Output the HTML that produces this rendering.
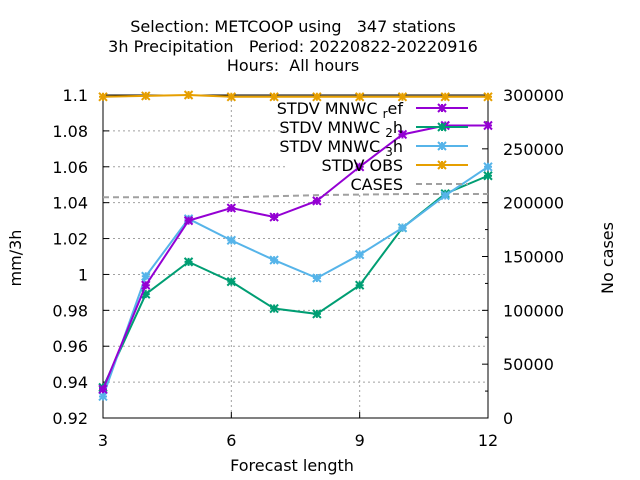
<!DOCTYPE html>
<html><head><meta charset="utf-8"><style>body{margin:0;background:#fff}svg{display:block;font-family:"DejaVu Sans","Liberation Sans",sans-serif}text{white-space:pre}</style></head>
<body>
<svg id="c" width="640" height="480" xmlns="http://www.w3.org/2000/svg"></svg>
<script>
const steps=[3,4,5,6,7,8,9,10,11,12];
const refVals=[0.936,0.994,1.030,1.037,1.032,1.041,1.060,1.078,1.083,1.083];
const h2Vals=[0.937,0.989,1.007,0.996,0.981,0.978,0.994,1.026,1.045,1.055];
const h3Vals=[0.932,0.999,1.031,1.019,1.008,0.998,1.011,1.026,1.044,1.060];
const obsVals=[1.099,1.0995,1.100,1.099,1.099,1.099,1.099,1.099,1.099,1.099];
const casesVals=[205000,205000,205000,205000,206000,207000,207500,208000,208000,208000];
const yTicks=[0.92,0.94,0.96,0.98,1,1.02,1.04,1.06,1.08,1.1];
const y2Ticks=[0,50000,100000,150000,200000,250000,300000];
const xTicks=[3,6,9,12];
const L=103,R=488,T=95,B=418;
const FS=16;
const X=v=>L+(v-3)/9*(R-L);
const Y=v=>B-(v-0.92)/0.18*(B-T);
const Y2=v=>B-v/300000*(B-T);
const svg=document.getElementById('c');
const NS='http://www.w3.org/2000/svg';
function mk(tag,attrs,parent){const e=document.createElementNS(NS,tag);for(const k in attrs)e.setAttribute(k,attrs[k]);(parent||svg).appendChild(e);return e;}
function txt(x,y,s,anchor,name,extra){const t=mk('text',Object.assign({x:x,y:y,'font-size':FS,'text-anchor':anchor||'middle',fill:'#000'},extra||{}));t.textContent=s;


return t;}
yTicks.forEach(v=>{if(v>0.92&&v<1.1){const g=mk('line',{x1:L,x2:R,y1:Y(v),y2:Y(v),stroke:'#a0a0a0','stroke-dasharray':'2,3'});

}});
xTicks.forEach(v=>{if(v>3&&v<12){const g=mk('line',{x1:X(v),x2:X(v),y1:T,y2:B,stroke:'#a0a0a0','stroke-dasharray':'2,3'});

}});
const lb=mk('rect',{x:287,y:97,width:199,height:96,fill:'#fff'});


const box=mk('rect',{x:L,y:T,width:R-L,height:B-T,fill:'none',stroke:'#000','stroke-width':1});


yTicks.forEach(v=>{mk('line',{x1:L,x2:L+6,y1:Y(v),y2:Y(v),stroke:'#000'});
txt(88,Y(v)+6,String(v),'end','y-tick-label');});
y2Ticks.forEach(v=>{mk('line',{x1:R-6,x2:R,y1:Y2(v),y2:Y2(v),stroke:'#000'});
if(v<300000)mk('line',{x1:R-3,x2:R,y1:Y2(v+25000),y2:Y2(v+25000),stroke:'#000'});
txt(503,Y2(v)+6,String(v),'start','y2-tick-label');});
xTicks.forEach(v=>{mk('line',{x1:X(v),x2:X(v),y1:B,y2:B-6,stroke:'#000'});
txt(X(v),446,String(v),'middle','x-tick-label');});
txt(293,32,'Selection: METCOOP using   347 stations','middle','title-line-1');
txt(293,52,'3h Precipitation   Period: 20220822-20220916','middle','title-line-2');
txt(293,71,'Hours:  All hours','middle','title-line-3');
txt(292,471,'Forecast length','middle','x-axis-title');
txt(21,258,'mm/3h','middle','y-axis-title',{transform:'rotate(-90 21 258)'});
txt(613,258,'No cases','middle','y2-axis-title',{transform:'rotate(-90 613 258)'});
const cp=mk('polyline',{points:steps.map((s,i)=>X(s)+','+Y2(casesVals[i])).join(' '),fill:'none',stroke:'#a0a0a0','stroke-width':2,'stroke-dasharray':'6,4'});


function marker(x,y,c,g){const s=4;mk('path',{d:`M${x-s},${y-s}L${x+s},${y+s}M${x-s},${y+s}L${x+s},${y-s}M${x-s},${y}L${x+s},${y}M${x},${y-s}L${x},${y+s}`,stroke:c,'stroke-width':2},g);}
function series(vals,c,name){const g=mk('g',{});


mk('polyline',{points:steps.map((s,i)=>X(s)+','+Y(vals[i])).join(' '),fill:'none',stroke:c,'stroke-width':2},g);
steps.forEach((s,i)=>marker(X(s),Y(vals[i]),c,g));}
series(obsVals,'#e69f00','series-obs');
series(h2Vals,'#009e73','series-mnwc-2h');
series(h3Vals,'#56b4e9','series-mnwc-3h');
series(refVals,'#9400d3','series-mnwc-ref');
const leg=[['STDV MNWC','r','ef','#9400d3'],['STDV MNWC','2','h','#009e73'],['STDV MNWC','3','h','#56b4e9'],['STDV OBS','','','#e69f00'],['CASES','','','#a0a0a0']];
leg.forEach((e,i)=>{const y=108+i*19;const g=mk('g',{});


const t=mk('text',{x:403,y:y+6,'font-size':FS,'text-anchor':'end'},g);
const a=mk('tspan',{},t);a.textContent=e[0]+(e[1]?' ':'');
if(e[1]){const b=mk('tspan',{dy:4,'font-size':12},t);b.textContent=e[1];const d=mk('tspan',{dy:-4},t);d.textContent=e[2];}
if(i<4){mk('line',{x1:416,x2:468,y1:y,y2:y,stroke:e[3],'stroke-width':2},g);marker(442,y,e[3],g);}
else mk('line',{x1:416,x2:468,y1:y,y2:y,stroke:e[3],'stroke-width':2,'stroke-dasharray':'6,4'},g);});
</script>
</body></html>
